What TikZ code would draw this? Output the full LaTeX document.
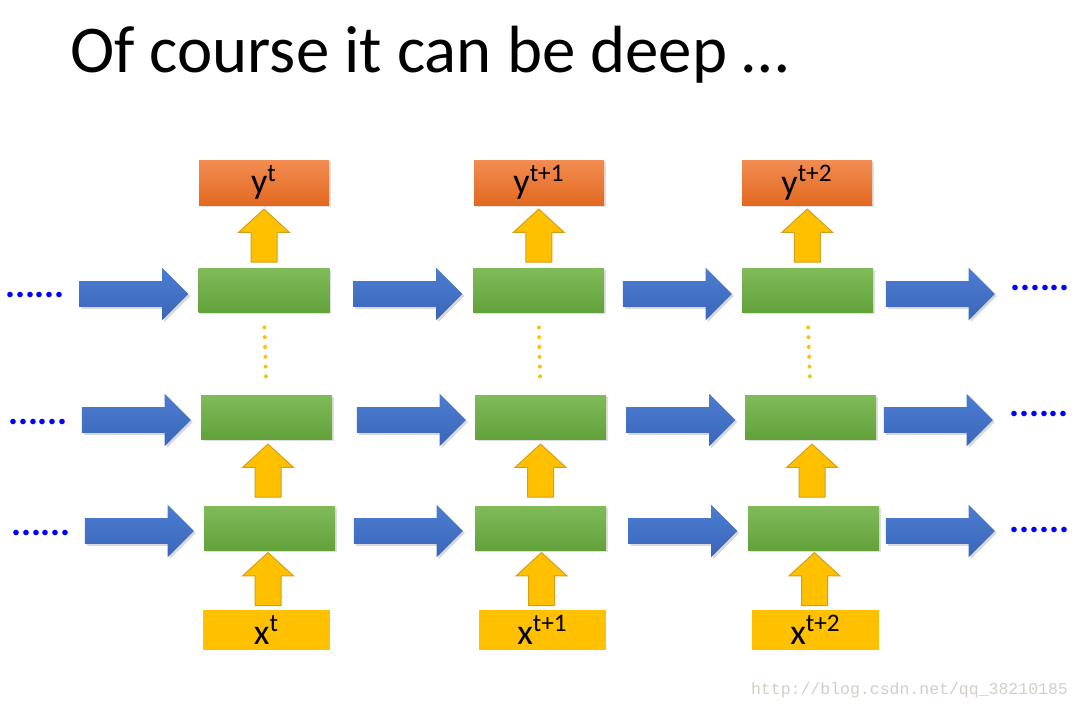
\documentclass[tikz,border=0pt]{standalone}
\usepackage{fontspec}
\setmainfont{Carlito}
\newfontfamily\markfont{Liberation Mono}
\usetikzlibrary{shapes.arrows,shadows,calc}
\definecolor{cellhi}{HTML}{80BB5A}
\definecolor{celllo}{HTML}{62A23A}
\definecolor{outhi}{HTML}{F28C52}
\definecolor{outlo}{HTML}{E2691F}
\definecolor{feedyellow}{HTML}{FFC000}
\definecolor{feedrim}{HTML}{D4A017}
\definecolor{flowhi}{HTML}{4C7DD2}
\definecolor{flowlo}{HTML}{3A66B8}
\definecolor{dotblue}{HTML}{0000FF}
\definecolor{markgray}{HTML}{D2CEC6}
\begin{document}
\begin{tikzpicture}[x=0.5pt,y=-0.5pt,
    cell/.style={inner sep=0pt,minimum width=65.5pt,minimum height=22pt,
        top color=cellhi,bottom color=celllo,
        drop shadow={opacity=0.25,shadow xshift=0.8pt,shadow yshift=-0.8pt}},
    outbox/.style={inner sep=0pt,minimum width=65pt,minimum height=22.5pt,
        top color=outhi,bottom color=outlo,font=\fontsize{18}{18}\selectfont,
        drop shadow={opacity=0.25,shadow xshift=0.8pt,shadow yshift=-0.8pt}},
    inbox/.style={inner sep=0pt,minimum width=63.5pt,minimum height=20pt,
        fill=feedyellow,font=\fontsize{18}{18}\selectfont},
    upmove/.style={single arrow,rotate=90,inner xsep=0pt,inner ysep=6.25pt,
        minimum height=26.5pt,single arrow head extend=6.25pt,
        single arrow tip angle=95,fill=feedyellow,draw=feedrim,line width=0.5pt},
    sidemove/.style={single arrow,inner xsep=0pt,inner ysep=6.25pt,
        minimum height=54.5pt,single arrow head extend=6.75pt,
        top color=flowhi,bottom color=flowlo,
        drop shadow={opacity=0.3,shadow xshift=1pt,shadow yshift=-1pt}},
    more/.style={anchor=base,text=dotblue,font=\bfseries\fontsize{18.7}{18.7}\selectfont},
    stack/.style={feedyellow,line width=2pt,line cap=round,dash pattern=on 0pt off 4.9pt,
        shorten <=7.5pt,shorten >=7.5pt}]
\useasboundingbox (0,0) rectangle (1080,709);
\node[anchor=base west,font=\fontsize{33.4}{33.4}\selectfont] (title) at (63,72) {Of course it can be deep \dots};
%===========================================
% columns: top cell, middle cell, bottom cell, output, input
\foreach \c/\xa/\xb/\xc/\xo/\xi/\tt in {1/264/266.5/269.5/264/266.5/t,
        2/538.5/540.5/540.5/539/542.5/t+1,
        3/807.5/810.5/813.5/807/815.5/t+2}{
    \node[cell] (top\c) at (\xa,290) {};
    \node[cell] (mid\c) at (\xb,417) {};
    \node[cell] (bot\c) at (\xc,528) {};
    \node[outbox] (y\c) at (\xo,182.5) {y\textsuperscript{\tt}};
    \node[inbox] (x\c) at (\xi,630) {x\textsuperscript{\tt}};
    \node[upmove] (up\c) at ($(top\c.north)!0.5!(y\c.south)+(0,5)$) {};
    \node[upmove] (lift\c) at ($(bot\c.north)!0.5!(mid\c.south)+(0,4)$) {};
    \node[upmove] (feed\c) at ($(x\c.north)!0.5!(bot\c.south)+(0,5)$) {};
    \draw[stack] (top\c.south) -- (mid\c.north);
}
%===========================================
% horizontal flow
\foreach \px/\py [count=\i] in {127.5/294,401.5/294,671/294,934/294,
        130/420,405/420,674.5/420,932/420,
        133/531,402/531,676.5/531,934/531}
    \node[sidemove] (flow\i) at (\px,\py) {};
\node[more] (inA) at (35,297.5) {......};
\node[more] (inB) at (38,424.5) {......};
\node[more] (inC) at (41,535.5) {......};
\node[more] (outA) at (1040,290.5) {......};
\node[more] (outB) at (1039,416.5) {......};
\node[more] (outC) at (1039.5,532.5) {......};
\node[anchor=base west,text=markgray,font=\markfont\fontsize{8.25}{8.25}\selectfont] (mark) at (744,694) {http://blog.csdn.net/qq\_38210185};
\end{tikzpicture}
\end{document}
